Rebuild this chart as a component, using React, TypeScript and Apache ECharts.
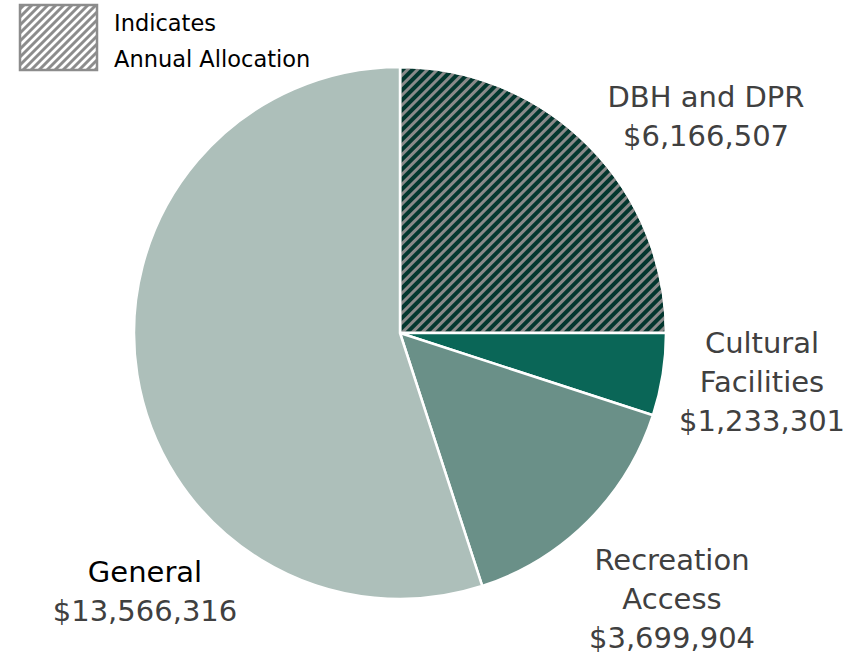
import React, { useEffect, useRef } from "react";
import * as echarts from "echarts";

const names = ["DBH and DPR", "Cultural\nFacilities", "Recreation\nAccess", "General"];
const values = [6166507, 1233301, 3699904, 13566316];
const sliceColors = ["#03362e", "#0a6657", "#6a9088", "#adbfba"];
const nameColors = ["#404040", "#404040", "#404040", "#000000"];
const hatched = [true, false, false, false];
const labelPos = [
  [706, 116],
  [762, 382],
  [672, 599],
  [145, 591],
];
const legendLines = ["Indicates", "Annual Allocation"];

const fmt = (v: number) => "$" + v.toLocaleString("en-US");

function legendHatch() {
  const x0 = 20, y0 = 5, w = 77, h = 65;
  const els: any[] = [];
  for (let c = x0 + y0 + 4; c < x0 + w + y0 + h; c += 8) {
    const xa = Math.max(x0, c - y0 - h);
    const xb = Math.min(x0 + w, c - y0);
    if (xb <= xa) continue;
    els.push({
      type: "line",
      shape: { x1: xa, y1: c - xa, x2: xb, y2: c - xb },
      style: { stroke: "#8c8c8c", lineWidth: 3 },
      silent: true,
    });
  }
  els.push({
    type: "rect",
    shape: { x: x0, y: y0, width: w, height: h },
    style: { fill: "none", stroke: "#8c8c8c", lineWidth: 2.5 },
    silent: true,
  });
  return els;
}

export default function App() {
  const ref = useRef<HTMLDivElement>(null);
  useEffect(() => {
    if (!ref.current) return;
    const chart = echarts.init(ref.current, null, { renderer: "svg" });
    const font = "DejaVu Sans";
    const fs = 29;
    chart.setOption({
      animation: false,
      backgroundColor: "#ffffff",
      graphic: [
        ...legendHatch(),
        {
          type: "text",
          left: 114,
          top: 5,
          style: {
            text: legendLines.join("\n"),
            font: `22.5px '${font}'`,
            fill: "#000000",
            lineHeight: 36,
          },
        },
      ],
      series: [
        {
          type: "pie",
          center: [400, 333],
          radius: [0, 266],
          startAngle: 90,
          clockwise: true,
          avoidLabelOverlap: false,
          itemStyle: { borderColor: "#ffffff", borderWidth: 2.5 },
          labelLine: { show: false },
          label: {
            show: true,
            position: "outside",
            fontFamily: font,
            fontSize: fs,
            lineHeight: 39,
            align: "center",
          },
          labelLayout: (p: any) => ({
            x: labelPos[p.dataIndex][0],
            y: labelPos[p.dataIndex][1],
            align: "center",
            verticalAlign: "middle",
          }),
          data: values.map((v, i) => ({
            name: names[i],
            value: v,
            itemStyle: {
              color: sliceColors[i],
              decal: hatched[i]
                ? {
                    symbol: "rect",
                    symbolSize: 1,
                    dashArrayX: [[1, 0]],
                    dashArrayY: [2.2, 3.2],
                    rotation: -Math.PI / 4,
                    color: "#8a8a8a",
                  }
                : "none",
            },
            label: {
              formatter: `{n|${names[i].split("\n").join("}\n{n|")}}\n{v|${fmt(v)}}`,
              rich: {
                n: { fontFamily: font, fontSize: fs, lineHeight: 39, color: nameColors[i], align: "center" },
                v: { fontFamily: font, fontSize: fs, lineHeight: 39, color: "#404040", align: "center" },
              },
            },
          })),
        },
      ],
    });
    return () => chart.dispose();
  }, []);
  return (
    <div
      ref={ref}
      style={{ position: "fixed", left: 0, top: 0, width: 865, height: 658 }}
    />
  );
}
